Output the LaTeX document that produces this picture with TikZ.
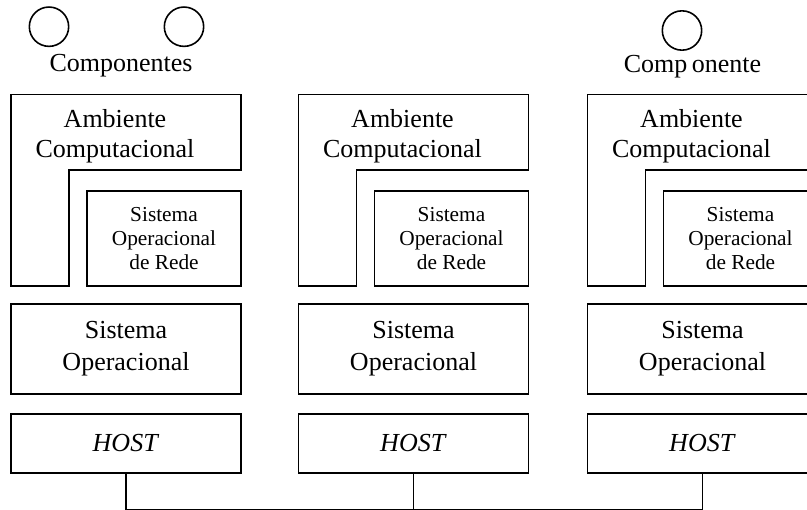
\documentclass[tikz,border=0pt]{standalone}
\usepackage{fontspec}
\setmainfont{Liberation Serif}
\begin{document}
\begin{tikzpicture}[x=0.75pt,y=-0.75pt,
  line join=miter,
  frame/.style={draw=black,line width=1.2pt},
  box/.style={frame,rectangle,inner sep=0pt,outer sep=0pt,align=center},
  bigtxt/.style={font=\fontsize{19.5}{24}\selectfont},
  smalltxt/.style={font=\fontsize{16}{18.2}\selectfont},
  comp/.style={draw=black,line width=1.2pt,circle,inner sep=0pt,minimum size=29.5pt},
  wire/.style={draw=black,line width=1pt}]
\useasboundingbox (0,0) rectangle (807,510);
\clip (0,0) rectangle (807,510);

% software components on top of the hosts
\node[comp] (c1) at (49,26.7) {};
\node[comp] (c2) at (184,26.7) {};
\node[comp] (c3) at (682,30.5) {};
\node[bigtxt,anchor=base] (lblc1) at (121,72) {Componentes};
\node[bigtxt,anchor=base] (lblc3) at (692.5,72.7) {Comp\,onente};

% one stack per host: computing environment, network OS, OS, host
\foreach \i/\x in {1/11, 2/298.5, 3/587.5}{
  \draw[frame] (\x,94.5) -- (\x+230,94.5) -- (\x+230,170) -- (\x+58,170)
        -- (\x+58,286) -- (\x,286) -- cycle;
  \node[bigtxt,align=center,font=\fontsize{19.5}{22.5}\selectfont] (amb\i) at (\x+104,136)
        {Ambiente\\Computacional};
  \node[box,smalltxt,minimum width=115.5pt,minimum height=71.25pt] (sor\i)
        at (\x+153,238.5) {Sistema\\Operacional\\de Rede};
  \node[box,bigtxt,minimum width=172.5pt,minimum height=67.5pt] (so\i)
        at (\x+115,349) {Sistema\\Operacional};
  \node[box,bigtxt,minimum width=172.5pt,minimum height=44.25pt] (host\i)
        at (\x+115,443.5) {\textit{HOST}};
  \coordinate (bus\i) at (host\i.south |- 0,509.6);
}

% network linking the hosts
\draw[wire] (host1.south) -- (bus1) -- (bus3) -- (host3.south);
\draw[wire] (host2.south) -- (bus2);
\end{tikzpicture}
\end{document}
